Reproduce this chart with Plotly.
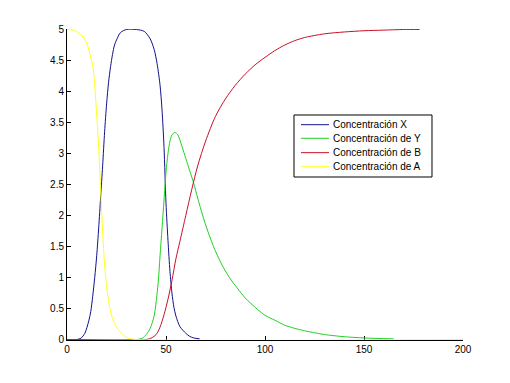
import plotly.graph_objects as go

# Concentración X
t_X = [0, 5, 7, 9, 11, 12, 13, 14, 15, 16, 17, 18, 19, 20, 21, 22, 23, 24, 25, 27, 30, 35, 39,
       42, 44, 45.5, 47, 48, 49, 50, 51, 52, 53, 54, 55, 57, 60, 62, 64, 67]
X = [0, 0, 0.02, 0.1, 0.3, 0.45, 0.7, 1.0, 1.35, 1.8, 2.3, 2.8, 3.35, 3.8, 4.15, 4.4, 4.6, 4.75,
     4.83, 4.95, 5.0, 5.0, 4.97, 4.85, 4.68, 4.45, 4.1, 3.7, 3.1, 2.2, 1.6, 1.1, 0.75, 0.52, 0.38,
     0.21, 0.1, 0.05, 0.025, 0.01]

# Concentración de Y
t_Y = [0, 35, 38, 40, 42, 44, 46, 47, 48, 49, 50, 51, 52, 53, 54.5, 56, 58, 60, 62, 64, 66, 70,
       74, 78, 82, 86, 90, 95, 100, 105, 110, 115, 120, 125, 130, 140, 150, 165]
Y = [0, 0, 0.02, 0.08, 0.18, 0.38, 0.9, 1.35, 1.8, 2.25, 2.7, 3.0, 3.2, 3.3, 3.34, 3.3, 3.12,
     2.92, 2.72, 2.52, 2.28, 1.85, 1.5, 1.22, 1.0, 0.83, 0.67, 0.52, 0.39, 0.31, 0.23, 0.18, 0.14,
     0.11, 0.08, 0.045, 0.025, 0.01]

# Concentración de B
t_B = [0, 40, 43, 45, 47, 49, 51, 53, 55, 57, 60, 63, 66, 70, 75, 80, 85, 90, 95, 100, 105, 110,
       115, 120, 130, 140, 150, 160, 170, 178]
B = [0, 0, 0.03, 0.08, 0.2, 0.4, 0.65, 0.95, 1.3, 1.58, 2.0, 2.42, 2.8, 3.2, 3.6, 3.88, 4.1,
     4.28, 4.43, 4.55, 4.66, 4.75, 4.82, 4.87, 4.93, 4.96, 4.98, 4.99, 5.0, 5.0]

# Concentración de A
t_A = [0, 3, 6, 8, 10, 12, 13, 14, 15, 16, 17, 18, 19, 20, 21, 22, 23, 24, 25, 27, 29, 31, 35, 200]
A = [5, 4.99, 4.95, 4.88, 4.78, 4.55, 4.42, 4.1, 3.62, 3.1, 2.4, 1.75, 1.2, 0.85, 0.62, 0.45,
     0.34, 0.26, 0.2, 0.12, 0.06, 0.02, 0, 0]

series_names = ["Concentración X", "Concentración de Y", "Concentración de B", "Concentración de A"]
series_colors = ["#12128e", "#22d022", "#c8102a", "#ffff1a"]

x_tickvals = [0, 50, 100, 150, 200]
x_ticktext = ["0", "50", "100", "150", "200"]
y_tickvals = [0, 0.5, 1, 1.5, 2, 2.5, 3, 3.5, 4, 4.5, 5]
y_ticktext = ["0", "0.5", "1", "1.5", "2", "2.5", "3", "3.5", "4", "4.5", "5"]

fig = go.Figure()
for tt, vv, name, col in zip([t_X, t_Y, t_B, t_A], [X, Y, B, A], series_names, series_colors):
    fig.add_trace(go.Scatter(x=tt, y=vv, mode="lines", name=name,
                             line=dict(color=col, width=1, shape="spline", smoothing=0.8),
                             showlegend=False))

# Custom compact legend (MATLAB style box), in paper coordinates
leg_x0, leg_x1, leg_y0, leg_y1 = 0.5732, 0.9217, 0.5241, 0.7235
leg_line_x0, leg_line_x1, leg_text_x = 0.5909, 0.6616, 0.6667
leg_rows = [0.6923, 0.6486, 0.6023, 0.5572]

shapes = [dict(type="rect", xref="paper", yref="paper", x0=leg_x0, x1=leg_x1,
               y0=leg_y0, y1=leg_y1, line=dict(color="black", width=1),
               fillcolor="white", layer="above")]
annotations = []
for ry, name, col in zip(leg_rows, series_names, series_colors):
    shapes.append(dict(type="line", xref="paper", yref="paper", x0=leg_line_x0,
                       x1=leg_line_x1, y0=ry, y1=ry, line=dict(color=col, width=1),
                       layer="above"))
    annotations.append(dict(xref="paper", yref="paper", x=leg_text_x, y=ry, text=name,
                            showarrow=False, xanchor="left", yanchor="middle",
                            font=dict(size=10, color="black")))

fig.update_layout(
    width=502, height=375,
    margin=dict(l=59, r=47, t=21, b=43),
    paper_bgcolor="white", plot_bgcolor="white",
    font=dict(family="Liberation Sans, Arial, sans-serif", size=10, color="black"),
    showlegend=False,
    shapes=shapes, annotations=annotations,
)
fig.update_xaxes(range=[0, 200], tickvals=x_tickvals, ticktext=x_ticktext,
                 ticks="inside", ticklen=4, tickcolor="black", showline=True,
                 linecolor="black", linewidth=1, showgrid=False, zeroline=False,
                 layer="below traces")
fig.update_yaxes(range=[-0.008, 5.008], tickvals=y_tickvals, ticktext=y_ticktext,
                 ticks="inside", ticklen=4, tickcolor="black", showline=True,
                 linecolor="black", linewidth=1, showgrid=False, zeroline=False,
                 layer="below traces")

fig.write_html("out.html")
